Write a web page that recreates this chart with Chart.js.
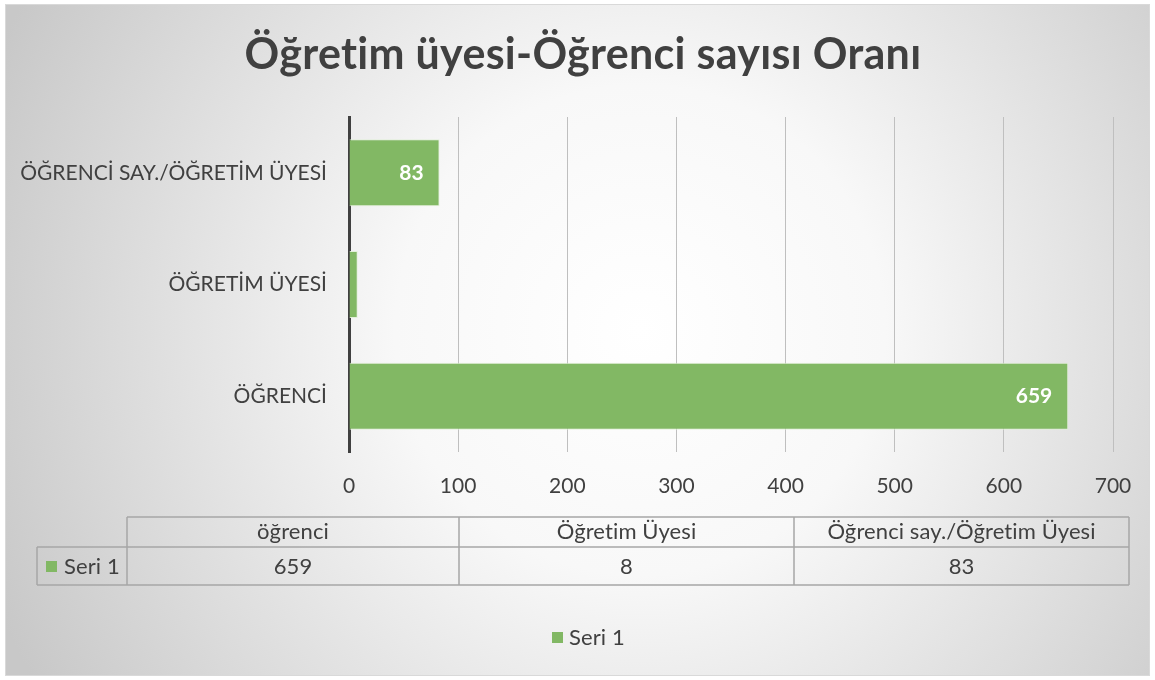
<!DOCTYPE html>
<html>
<head>
<meta charset="utf-8">
<script src="https://cdn.jsdelivr.net/npm/chart.js@4.4.1/dist/chart.umd.min.js"></script>
<style>
  html, body { margin: 0; padding: 0; background: #fff; }
  #wrap { width: 1155px; height: 680px; }
</style>
</head>
<body>
<div id="wrap"><canvas id="plots" width="1155" height="680"></canvas></div>
<script>
// data
var tickLabels = ["ÖĞRENCİ", "ÖĞRETİM ÜYESİ", "ÖĞRENCİ SAY./ÖĞRETİM ÜYESİ"];
var tableHeads = ["öğrenci", "Öğretim Üyesi", "Öğrenci say./Öğretim Üyesi"];
var seriesName = "Seri 1";
var values = [659, 8, 83];
var xTicks = [0, 100, 200, 300, 400, 500, 600, 700];

var FONT = "Lato, 'Open Sans', sans-serif";
var TXT = "#404040";
var GREEN = "#82b864";

// background + title + table + legend, drawn around the chart
var excelLook = {
    id: 'excelLook',
    beforeDraw: function (chart) {
        var ctx = chart.ctx;
        ctx.save();
        ctx.fillStyle = "#ffffff";
        ctx.fillRect(0, 0, 1155, 680);
        var g = ctx.createRadialGradient(640, 330, 0, 640, 330, 700);
        g.addColorStop(0, "#ffffff");
        g.addColorStop(0.35, "#f8f8f8");
        g.addColorStop(1, "#c8c8c8");
        ctx.fillStyle = g;
        ctx.fillRect(5, 4, 1145, 672);
        ctx.strokeStyle = "#d9d9d9";
        ctx.lineWidth = 1;
        ctx.strokeRect(5.5, 4.5, 1144, 671);

        // title (small letter spacing keeps Lato from joining "ti")
        ctx.fillStyle = TXT;
        ctx.font = "bold 43px " + FONT;
        ctx.letterSpacing = "0.3px";
        ctx.textAlign = "center";
        ctx.textBaseline = "middle";
        ctx.fillText("Öğretim üyesi-Öğrenci sayısı Oranı", 583, 55);
        ctx.restore();
    },
    afterDatasetsDraw: function (chart) {
        var ctx = chart.ctx;
        var meta = chart.getDatasetMeta(0);
        ctx.save();
        ctx.font = "bold 21px " + FONT;
        ctx.fillStyle = "#ffffff";
        ctx.textAlign = "right";
        ctx.textBaseline = "middle";
        meta.data.forEach(function (bar, i) {
            if (values[i] < 20) return;
            ctx.fillText(String(values[i]), bar.x - 16, bar.y);
        });
        ctx.restore();
    },
    afterDraw: function (chart) {
        var ctx = chart.ctx;
        ctx.save();
        // data table
        var cols = [127, 459, 794, 1129];
        var yTop = 517, yMid = 547, yBot = 585, xSer = 37;
        ctx.strokeStyle = "#a6a6a6";
        ctx.lineWidth = 1.5;
        ctx.beginPath();
        ctx.moveTo(cols[0], yTop); ctx.lineTo(cols[3], yTop);
        ctx.moveTo(xSer, yMid); ctx.lineTo(cols[3], yMid);
        ctx.moveTo(xSer, yBot); ctx.lineTo(cols[3], yBot);
        ctx.moveTo(xSer, yMid); ctx.lineTo(xSer, yBot);
        cols.forEach(function (c) { ctx.moveTo(c, yTop); ctx.lineTo(c, yBot); });
        ctx.stroke();

        ctx.fillStyle = TXT;
        ctx.font = "22px " + FONT;
        ctx.letterSpacing = "0.1px";
        ctx.textAlign = "center";
        ctx.textBaseline = "middle";
        for (var i = 0; i < 3; i++) {
            var cx = (cols[i] + cols[i + 1]) / 2;
            ctx.fillText(tableHeads[i], cx, (yTop + yMid) / 2);
            ctx.fillText(String(values[i]), cx, (yMid + yBot) / 2 + 1);
        }
        ctx.textAlign = "left";
        ctx.fillText(seriesName, 64, (yMid + yBot) / 2 + 1);
        ctx.fillStyle = GREEN;
        ctx.fillRect(46, 561, 11, 11);

        // legend
        ctx.fillRect(552, 632, 11, 11);
        ctx.fillStyle = TXT;
        ctx.fillText(chart.data.datasets[0].label, 569, 638);
        ctx.restore();
    }
};

new Chart(document.getElementById("plots"), {
    type: 'bar',
    data: {
        labels: tickLabels,
        datasets: [{
            label: seriesName,
            data: values,
            backgroundColor: GREEN,
            borderColor: "rgba(225,240,215,0.9)",
            borderWidth: 1,
            barPercentage: 0.6,
            categoryPercentage: 1.0
        }]
    },
    plugins: [excelLook],
    options: {
        indexAxis: 'y',
        responsive: false,
        animation: false,
        events: [],
        layout: { padding: { top: 117, right: 42, left: 0, bottom: 0 } },
        plugins: {
            legend: { display: false },
            title: { display: false },
            tooltip: { enabled: false }
        },
        scales: {
            x: {
                min: 0,
                max: 700,
                afterBuildTicks: function (axis) {
                    axis.ticks = xTicks.map(function (v) { return { value: v }; });
                },
                afterFit: function (axis) { axis.height = 228; },
                grid: { color: "#bfbfbf", lineWidth: 1, drawTicks: false },
                border: { display: false },
                ticks: { color: TXT, font: { family: FONT, size: 21 }, padding: 22 }
            },
            y: {
                reverse: true,
                afterFit: function (axis) { axis.width = 349; },
                grid: { display: false },
                border: { color: "#404040", width: 3 },
                ticks: { color: TXT, font: { family: FONT, size: 21 }, padding: 14 }
            }
        }
    }
});
</script>
</body>
</html>
